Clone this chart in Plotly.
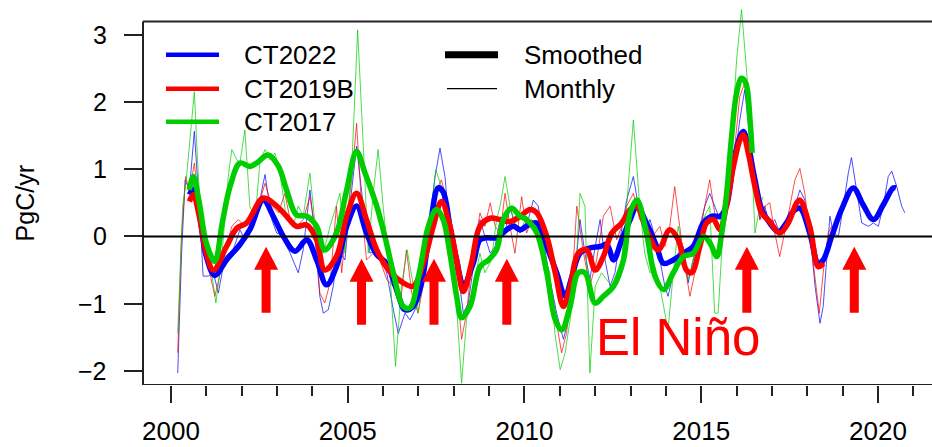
import plotly.graph_objects as go

# ---------------- data ----------------
ct2022_month_x = [2000.19, 2000.30, 2000.40, 2000.52, 2000.66, 2000.80, 2000.91, 2001.06, 2001.20, 2001.34, 2001.53, 2001.76,
                  2001.95, 2002.09, 2002.23, 2002.42, 2002.66, 2002.85, 2002.99, 2003.13, 2003.37, 2003.60, 2003.74, 2003.93,
                  2004.07, 2004.21, 2004.31, 2004.45, 2004.59, 2004.73, 2004.92, 2005.06, 2005.25, 2005.44, 2005.63, 2005.82,
                  2005.96, 2006.10, 2006.29, 2006.43, 2006.62, 2006.76, 2006.95, 2007.14, 2007.32, 2007.47, 2007.61, 2007.75,
                  2007.89, 2008.03, 2008.17, 2008.27, 2008.41, 2008.55, 2008.74, 2008.88, 2009.03, 2009.17, 2009.31, 2009.45,
                  2009.59, 2009.73, 2009.87, 2010.06, 2010.25, 2010.39, 2010.53, 2010.72, 2010.91, 2011.10, 2011.29, 2011.43,
                  2011.57, 2011.71, 2011.85, 2012.00, 2012.14, 2012.28, 2012.42, 2012.56, 2012.70, 2012.89, 2013.08, 2013.22,
                  2013.40, 2013.55, 2013.69, 2013.83, 2013.97, 2014.06, 2014.21, 2014.35, 2014.49, 2014.63, 2014.77, 2014.96,
                  2015.10, 2015.24, 2015.38, 2015.53, 2015.67, 2015.81, 2015.95, 2016.09, 2016.23, 2016.37, 2016.52, 2016.66,
                  2016.80, 2016.94, 2017.08, 2017.22, 2017.36, 2017.51, 2017.65, 2017.79, 2017.93, 2018.08, 2018.22, 2018.36,
                  2018.45, 2018.55, 2018.64, 2018.74, 2018.88, 2019.02, 2019.16, 2019.25, 2019.40, 2019.54, 2019.73, 2019.87,
                  2020.01, 2020.15, 2020.29, 2020.39, 2020.53, 2020.67, 2020.76]
ct2022_month_y = [-2.03, -0.25, 0.84, 0.69, 1.56, 0.45, -0.59, -0.59, -0.54, -0.84, -0.30, -0.20,
                  0.10, -0.05, 0.15, 0.30, 0.92, 0.25, 0.05, 0.02, -0.25, -0.54, -0.20, 0.69,
                  0.00, -0.89, -1.14, -1.09, -0.74, -0.20, -0.35, 0.45, 1.34, 0.45, -0.25, -0.20,
                  -0.35, -0.54, -1.09, -1.44, -1.14, -1.24, -1.04, -0.64, 0.25, 0.89, 1.31, 0.89,
                  0.05, -0.40, -0.74, -1.14, -0.99, -0.45, 0.25, 0.00, -0.25, -0.15, 0.25, 0.05,
                  0.45, 0.15, 0.05, 0.15, 0.54, 0.45, -0.05, -0.64, -1.14, -1.53, -1.14, -0.54,
                  0.25, -0.25, -0.64, -0.15, 0.25, -0.35, -0.74, -0.54, -0.05, 0.54, 0.89, 0.45,
                  0.05, 0.25, 0.00, -0.35, -0.74, -0.89, -0.54, -0.25, -0.15, -0.69, -0.35, 0.05,
                  0.45, 0.64, 0.45, 0.25, 0.45, 0.64, 1.14, 1.73, 2.18, 1.49, 0.64, 0.25,
                  0.45, 0.15, 0.25, 0.05, 0.20, 0.25, 0.45, 0.69, 0.54, 0.05, -0.74, -1.29,
                  -1.04, -0.25, 0.30, 0.05, 0.00, 0.45, 0.94, 1.17, 0.64, 0.20, 0.15, 0.20,
                  0.15, 0.45, 0.89, 0.97, 0.74, 0.45, 0.35]

ct2019b_month_x = [2000.19, 2000.30, 2000.42, 2000.52, 2000.66, 2000.80, 2000.91, 2001.06, 2001.24, 2001.39, 2001.57, 2001.72,
                   2001.90, 2002.09, 2002.28, 2002.47, 2002.66, 2002.85, 2003.04, 2003.22, 2003.37, 2003.55, 2003.74, 2003.93,
                   2004.07, 2004.21, 2004.35, 2004.50, 2004.68, 2004.83, 2004.97, 2005.11, 2005.25, 2005.39, 2005.53, 2005.72,
                   2005.91, 2006.10, 2006.29, 2006.48, 2006.66, 2006.81, 2006.99, 2007.18, 2007.37, 2007.51, 2007.65, 2007.80,
                   2007.94, 2008.08, 2008.22, 2008.36, 2008.50, 2008.74, 2008.88, 2009.03, 2009.17, 2009.31, 2009.45, 2009.59,
                   2009.73, 2009.92, 2010.06, 2010.20, 2010.35, 2010.49, 2010.68, 2010.86, 2011.05, 2011.19, 2011.34, 2011.48,
                   2011.67, 2011.85, 2012.04, 2012.23, 2012.42, 2012.61, 2012.75, 2012.89, 2013.08, 2013.26, 2013.40, 2013.55,
                   2013.69, 2013.83, 2013.97, 2014.11, 2014.25, 2014.39, 2014.54, 2014.68, 2014.82, 2014.96, 2015.10, 2015.24,
                   2015.38, 2015.53, 2015.67, 2015.81, 2015.95, 2016.09, 2016.23, 2016.37, 2016.52, 2016.66, 2016.80, 2016.94,
                   2017.08, 2017.22, 2017.36, 2017.51, 2017.65, 2017.79, 2017.93, 2018.08, 2018.22, 2018.34, 2018.45, 2018.59,
                   2018.69, 2018.78]
ct2019b_month_y = [-1.73, 0.05, 0.89, 0.64, 1.09, 0.45, -0.25, -0.45, -0.89, -0.54, -0.15, 0.15,
                   0.25, 0.15, 0.30, 0.45, 0.79, 0.45, 0.35, 0.64, 0.25, 0.15, 0.25, 0.59,
                   0.15, -0.84, -0.99, -0.69, 0.45, -0.54, 0.25, 0.84, 1.68, 0.45, -0.35, -0.25,
                   -0.35, -0.64, -0.74, -1.04, -0.20, -0.84, -1.14, -0.59, 0.15, 0.69, 0.84, 0.54,
                   0.15, -0.69, -1.53, -1.14, -0.45, 0.35, 0.15, 0.50, 0.15, 0.05, 0.64, 0.15,
                   -0.25, 0.59, 0.05, 0.25, 0.15, -0.05, -0.54, -1.14, -1.73, -1.44, -0.74, 0.45,
                   -0.25, -0.74, -0.35, 0.30, 0.45, -0.05, 0.15, 0.45, 0.64, 0.25, 0.15, -0.35,
                   0.05, 0.15, -0.15, 0.15, 0.74, 0.15, -0.45, -0.89, -0.54, 0.15, 0.45, 0.84,
                   0.35, 0.10, 0.64, 0.84, 1.34, 2.08, 2.28, 1.73, 0.84, 0.25, 0.45, 0.50,
                   0.05, -0.30, 0.05, 0.45, 0.84, 1.01, 0.64, 0.00, -0.64, -1.14, -0.54, 0.05,
                   0.15, 0.00]

ct2017_month_x = [2000.19, 2000.33, 2000.44, 2000.58, 2000.66, 2000.75, 2000.87, 2000.96, 2001.10, 2001.27, 2001.43, 2001.62,
                  2001.72, 2001.86, 2001.95, 2002.09, 2002.23, 2002.38, 2002.52, 2002.66, 2002.80, 2002.94, 2003.08, 2003.27,
                  2003.46, 2003.60, 2003.74, 2003.93, 2004.12, 2004.31, 2004.50, 2004.78, 2004.92, 2005.11, 2005.28, 2005.44,
                  2005.58, 2005.72, 2005.86, 2006.00, 2006.19, 2006.35, 2006.52, 2006.68, 2006.85, 2006.99, 2007.18, 2007.37,
                  2007.49, 2007.65, 2007.80, 2007.94, 2008.08, 2008.22, 2008.36, 2008.60, 2008.74, 2008.88, 2009.07, 2009.21,
                  2009.31, 2009.45, 2009.59, 2009.73, 2009.87, 2010.02, 2010.16, 2010.35, 2010.53, 2010.72, 2010.86, 2011.01,
                  2011.15, 2011.29, 2011.43, 2011.57, 2011.71, 2011.85, 2012.00, 2012.18, 2012.33, 2012.47, 2012.61, 2012.75,
                  2012.89, 2013.08, 2013.26, 2013.40, 2013.55, 2013.69, 2013.83, 2013.97, 2014.06, 2014.21, 2014.35, 2014.49,
                  2014.63, 2014.77, 2014.91, 2015.05, 2015.24, 2015.38, 2015.48, 2015.62, 2015.76, 2015.86, 2016.00, 2016.14,
                  2016.28, 2016.42, 2016.52, 2016.66, 2016.75]
ct2017_month_y = [-1.44, 0.45, 0.89, 1.73, 2.15, 1.14, 0.00, -0.15, -0.35, -0.99, -0.35, 0.89,
                  1.29, 1.14, 1.09, 1.58, 0.45, 0.25, 1.14, 1.29, 1.14, 1.24, 0.94, 0.25,
                  0.15, 0.45, 0.30, 0.94, -0.05, -0.25, 0.15, 0.64, -0.25, 0.99, 3.07, 1.34,
                  -0.25, 0.64, 1.29, 0.45, -0.50, -1.93, -0.74, -0.20, -0.74, -1.14, -0.35, 0.40,
                  0.99, 0.74, 0.15, -0.54, -1.04, -2.18, -1.24, -0.64, -0.25, -0.54, -0.35, 0.25,
                  0.45, 0.89, 0.45, 0.20, 0.05, 0.25, 0.15, 0.20, -0.25, -0.54, -1.44, -1.98,
                  -1.73, -1.24, -0.74, 0.64, 0.45, -2.03, -0.74, -0.54, -0.64, -0.74, -0.54, -0.35,
                  0.45, 1.73, 0.45, -0.25, -0.54, -0.45, -0.74, -1.14, -1.39, -0.54, 0.15, -0.25,
                  -0.64, -0.35, 0.05, 0.25, 0.45, -1.14, -1.14, 0.15, 0.45, 1.44, 2.62, 3.37,
                  2.48, 1.24, 0.05, 0.45, 0.59]

ct2022_smooth_x = [2000.52, 2000.63, 2000.80, 2001.00, 2001.24, 2001.57, 2001.95, 2002.23, 2002.61, 2002.89, 2003.18, 2003.51,
                   2003.84, 2004.12, 2004.40, 2004.68, 2004.97, 2005.25, 2005.53, 2005.82, 2006.10, 2006.38, 2006.62, 2006.85,
                   2007.09, 2007.33, 2007.56, 2007.70, 2007.89, 2008.08, 2008.27, 2008.55, 2008.74, 2008.93, 2009.22, 2009.50,
                   2009.69, 2009.88, 2010.11, 2010.35, 2010.63, 2010.91, 2011.15, 2011.34, 2011.57, 2011.86, 2012.14, 2012.33,
                   2012.52, 2012.75, 2012.99, 2013.18, 2013.45, 2013.74, 2013.93, 2014.21, 2014.49, 2014.77, 2015.06, 2015.29,
                   2015.53, 2015.71, 2015.91, 2016.10, 2016.19, 2016.33, 2016.52, 2016.71, 2016.94, 2017.18, 2017.41, 2017.60,
                   2017.79, 2018.07, 2018.31, 2018.45, 2018.69, 2018.97, 2019.30, 2019.58, 2019.87, 2020.15, 2020.43, 2020.51]
ct2022_smooth_y = [0.62, 0.70, 0.35, -0.30, -0.58, -0.35, -0.12, 0.10, 0.54, 0.30, 0.00, -0.22,
                   -0.05, -0.35, -0.72, -0.45, 0.15, 0.45, 0.05, -0.27, -0.40, -0.79, -1.09, -1.04,
                   -0.69, 0.15, 0.72, 0.66, 0.15, -0.35, -0.72, -0.40, -0.05, -0.02, -0.02, 0.10,
                   0.15, 0.10, 0.17, 0.20, -0.15, -0.54, -0.89, -0.60, -0.25, -0.17, -0.15, -0.12,
                   -0.35, -0.05, 0.25, 0.45, 0.20, -0.15, -0.40, -0.35, -0.25, -0.15, 0.20, 0.30,
                   0.30, 0.45, 1.09, 1.49, 1.56, 1.34, 0.84, 0.40, 0.20, 0.07, 0.20, 0.37,
                   0.42, 0.05, -0.40, -0.35, 0.00, 0.40, 0.72, 0.47, 0.25, 0.47, 0.72, 0.72]

ct2019b_smooth_x = [2000.52, 2000.63, 2000.80, 2001.00, 2001.20, 2001.57, 2001.86, 2002.14, 2002.61, 2002.99, 2003.27, 2003.55,
                    2003.84, 2004.12, 2004.35, 2004.68, 2004.97, 2005.25, 2005.53, 2005.82, 2006.19, 2006.57, 2006.85, 2007.14,
                    2007.42, 2007.65, 2007.89, 2008.08, 2008.27, 2008.50, 2008.74, 2009.03, 2009.31, 2009.59, 2009.88, 2010.16,
                    2010.35, 2010.63, 2010.87, 2011.10, 2011.29, 2011.52, 2011.76, 2012.00, 2012.23, 2012.47, 2012.75, 2012.99,
                    2013.18, 2013.45, 2013.78, 2014.11, 2014.35, 2014.58, 2014.73, 2014.96, 2015.15, 2015.34, 2015.53, 2015.71,
                    2015.91, 2016.10, 2016.19, 2016.33, 2016.52, 2016.71, 2016.94, 2017.22, 2017.46, 2017.70, 2017.79, 2018.07,
                    2018.31, 2018.45]
ct2019b_smooth_y = [0.52, 0.62, 0.30, -0.25, -0.50, -0.15, 0.12, 0.20, 0.57, 0.45, 0.30, 0.15,
                    0.17, -0.05, -0.50, -0.30, 0.30, 0.64, 0.25, -0.20, -0.52, -0.69, -0.74, -0.40,
                    0.15, 0.52, 0.15, -0.35, -0.82, -0.40, 0.15, 0.27, 0.25, 0.22, 0.30, 0.40,
                    0.35, 0.00, -0.54, -1.04, -0.74, -0.25, -0.20, -0.50, -0.30, 0.05, 0.20, 0.40,
                    0.45, 0.10, -0.20, 0.10, -0.05, -0.50, -0.54, -0.15, 0.20, 0.25, 0.10, 0.45,
                    1.04, 1.44, 1.51, 1.24, 0.74, 0.35, 0.22, 0.05, 0.20, 0.50, 0.54, 0.15,
                    -0.45, -0.40]

ct2017_smooth_x = [2000.52, 2000.63, 2000.80, 2001.00, 2001.24, 2001.45, 2001.67, 2001.95, 2002.23, 2002.42, 2002.75, 2003.04,
                   2003.27, 2003.55, 2003.84, 2004.12, 2004.35, 2004.68, 2004.97, 2005.25, 2005.49, 2005.82, 2006.05, 2006.29,
                   2006.57, 2006.76, 2007.04, 2007.28, 2007.51, 2007.70, 2007.89, 2008.08, 2008.22, 2008.46, 2008.74, 2008.98,
                   2009.21, 2009.40, 2009.64, 2009.87, 2010.06, 2010.35, 2010.63, 2010.87, 2011.05, 2011.29, 2011.52, 2011.71,
                   2012.00, 2012.23, 2012.52, 2012.80, 2012.99, 2013.18, 2013.45, 2013.69, 2013.93, 2014.21, 2014.49, 2014.77,
                   2015.06, 2015.25, 2015.44, 2015.58, 2015.71, 2015.86, 2016.00, 2016.14, 2016.26, 2016.38, 2016.44]
ct2017_smooth_y = [0.69, 0.89, 0.50, -0.10, -0.37, 0.20, 0.74, 1.09, 1.04, 1.09, 1.21, 1.04,
                   0.69, 0.32, 0.30, 0.15, -0.20, 0.05, 0.69, 1.26, 0.94, 0.45, 0.00, -0.54,
                   -1.04, -1.06, -0.50, 0.15, 0.40, 0.25, -0.25, -0.89, -1.21, -1.04, -0.45, -0.35,
                   -0.20, 0.25, 0.42, 0.30, 0.25, 0.05, -0.54, -1.24, -1.39, -1.04, -0.54, -0.54,
                   -0.99, -0.89, -0.74, -0.35, 0.35, 0.54, 0.05, -0.59, -0.79, -0.54, -0.30, -0.25,
                   0.00, -0.10, -0.30, 0.05, 0.59, 1.49, 2.13, 2.35, 2.28, 1.73, 1.24]

# El Niño arrows: year and value of the arrow's tail
elnino_years = [2002.69, 2005.39, 2007.44, 2009.50, 2016.29, 2019.33]
elnino_tail = [-1.134, -1.312, -1.312, -1.312, -1.134, -1.134]

series_names = ["CT2022", "CT2019B", "CT2017"]
series_colors = ["#0000FF", "#FF0000", "#00CD00"]
series_thin_colors = ["rgba(0,0,255,0.7)", "rgba(255,0,0,0.7)", "rgba(0,205,0,0.7)"]
y_ticks = [-2, -1, 0, 1, 2, 3]
y_tick_text = ["\u22122", "\u22121", "0", "1", "2", "3"]
x_major = [2000, 2005, 2010, 2015, 2020]

FONT = "Liberation Sans, Arial, Helvetica, sans-serif"
X_RANGE = [1999.208, 2021.528]
Y_RANGE = [-2.208, 3.394]
BOX_TOP = 3.193

monthly = [(ct2022_month_x, ct2022_month_y), (ct2019b_month_x, ct2019b_month_y), (ct2017_month_x, ct2017_month_y)]
smooth = [(ct2022_smooth_x, ct2022_smooth_y), (ct2019b_smooth_x, ct2019b_smooth_y), (ct2017_smooth_x, ct2017_smooth_y)]

fig = go.Figure()
for (xs, ys), col in zip(monthly, series_thin_colors):
    fig.add_trace(go.Scatter(x=xs, y=ys, mode="lines", line=dict(color=col, width=1),
                             showlegend=False, hoverinfo="skip"))
for (xs, ys), col in zip(smooth, series_colors):
    fig.add_trace(go.Scatter(x=xs, y=ys, mode="lines", line=dict(color=col, width=5.5, shape="spline", smoothing=1.0),
                             showlegend=False, hoverinfo="skip"))

shapes = []
box_col = "#222222"
shapes.append(dict(type="line", xref="paper", yref="y", x0=0, x1=0, y0=Y_RANGE[0], y1=BOX_TOP,
                   line=dict(color=box_col, width=2)))
shapes.append(dict(type="line", xref="paper", yref="y", x0=0, x1=1, y0=BOX_TOP, y1=BOX_TOP,
                   line=dict(color=box_col, width=2)))
shapes.append(dict(type="line", xref="paper", yref="y", x0=0, x1=1, y0=Y_RANGE[0], y1=Y_RANGE[0],
                   line=dict(color=box_col, width=2)))
shapes.append(dict(type="line", xref="paper", yref="y", x0=0, x1=1, y0=0, y1=0,
                   line=dict(color="black", width=2), layer="above"))
arrow_path = "M -4.5,0 L 4.5,0 L 4.5,43 L 12,43 L 0,66 L -12,43 L -4.5,43 Z"
for yr, tail in zip(elnino_years, elnino_tail):
    shapes.append(dict(type="path", xref="x", yref="y", xsizemode="pixel", ysizemode="pixel",
                       xanchor=yr, yanchor=tail, path=arrow_path, fillcolor="#FF0000",
                       line=dict(width=0), layer="above"))

annotations = []
# y tick labels
for v, t in zip(y_ticks, y_tick_text):
    annotations.append(dict(xref="paper", yref="y", x=0, xshift=-34, y=v, text=t, showarrow=False,
                            xanchor="right", yanchor="middle", font=dict(family=FONT, size=25, color="black")))
leg_y = [2.70, 2.195, 1.704]
for name, col, ly in zip(series_names, series_colors, leg_y):
    shapes.append(dict(type="line", xref="paper", yref="y", xsizemode="pixel", xanchor=0, x0=23, x1=76,
                       y0=ly, y1=ly, line=dict(color=col, width=4.5)))
    annotations.append(dict(xref="paper", yref="y", x=0, xshift=99, y=ly, text=name, showarrow=False,
                            xanchor="left", yanchor="middle", font=dict(family=FONT, size=26, color="black")))
shapes.append(dict(type="line", xref="paper", yref="y", xsizemode="pixel", xanchor=0, x0=302, x1=355,
                   y0=leg_y[0], y1=leg_y[0], line=dict(color="black", width=7)))
shapes.append(dict(type="line", xref="paper", yref="y", xsizemode="pixel", xanchor=0, x0=304, x1=354,
                   y0=leg_y[1], y1=leg_y[1], line=dict(color="black", width=1.3)))
for txt, ly in zip(["Smoothed", "Monthly"], leg_y[:2]):
    annotations.append(dict(xref="paper", yref="y", x=0, xshift=379, y=ly, text=txt, showarrow=False,
                            xanchor="left", yanchor="middle", font=dict(family=FONT, size=26, color="black")))

annotations.append(dict(xref="paper", yref="y", x=0, xshift=-118, y=0.49, text="PgC/yr", textangle=-90,
                        showarrow=False, xanchor="center", yanchor="middle",
                        font=dict(family=FONT, size=25, color="black")))
annotations.append(dict(xref="x", yref="y", x=2014.34, y=-1.50, text="El Niño", showarrow=False,
                        xanchor="center", yanchor="middle", font=dict(family=FONT, size=51, color="#FF0000")))

fig.update_layout(
    width=932, height=447,
    margin=dict(l=143, r=0, t=8, b=62, pad=0, autoexpand=False),
    paper_bgcolor="white", plot_bgcolor="white",
    showlegend=False,
    shapes=shapes, annotations=annotations,
    font=dict(family=FONT, color="black"),
)
fig.update_xaxes(range=X_RANGE, tickmode="array", tickvals=x_major, ticktext=[str(v) for v in x_major],
                 ticks="outside", ticklen=17, tickwidth=2, tickcolor=box_col,
                 minor=dict(ticks="outside", ticklen=10, tickwidth=2, tickcolor=box_col, dtick=1, tick0=2000),
                 showgrid=False, zeroline=False, showline=False, automargin=False,
                 tickfont=dict(family=FONT, size=26, color="black"), ticklabelstandoff=6)
fig.update_yaxes(range=Y_RANGE, tickmode="array", tickvals=y_ticks, showticklabels=False,
                 ticks="outside", ticklen=18, tickwidth=2, tickcolor=box_col,
                 showgrid=False, zeroline=False, showline=False, automargin=False)

fig.write_html("out.html")
